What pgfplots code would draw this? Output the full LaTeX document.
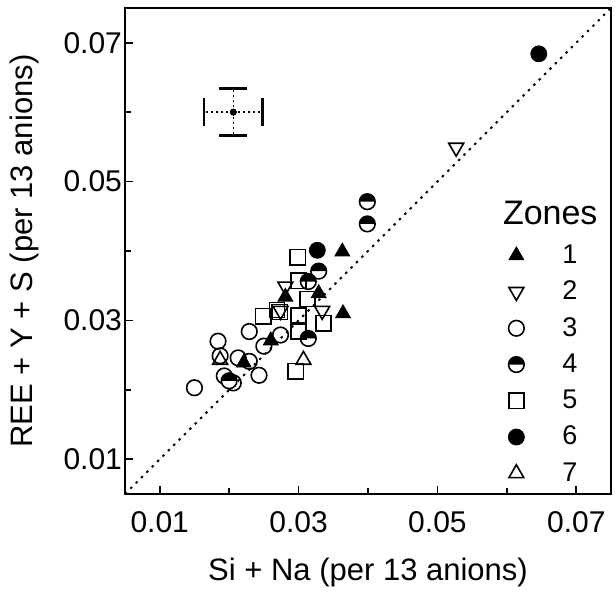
\documentclass[border=0pt]{standalone}
\usepackage{pgfplots}
\pgfplotsset{compat=1.18}
\usepackage{fontspec}
\setmainfont{Liberation Sans}
\begin{document}
\begin{tikzpicture}
\useasboundingbox (-62.5pt,-49pt) rectangle (245pt,247pt);
\begin{axis}[
  at={(0,0)}, anchor=south west,
  scale only axis, width=243pt, height=243pt,
  xmin=0.005, xmax=0.075, ymin=0.005, ymax=0.075,
  scaled ticks=false,
  xtick={0.01,0.03,0.05,0.07}, ytick={0.01,0.03,0.05,0.07},
  minor xtick={0.02,0.04,0.06}, minor ytick={0.02,0.04,0.06},
  xticklabels={0.01,0.03,0.05,0.07}, yticklabels={0.01,0.03,0.05,0.07},
  xtick pos=left, ytick pos=left, tick align=inside,
  major tick length=4pt, minor tick length=3pt,
  tick style={black, line width=0.8pt},
  axis line style={line width=0.7pt},
  /pgf/number format/assume math mode=true,
  tick label style={font=\fontsize{15}{17}\selectfont},
  xticklabel style={yshift=-5pt},
  yticklabel style={xshift=2pt},
  label style={font=\fontsize{15.5}{18}\selectfont},
  xlabel={Si + Na (per 13 anions)},
  ylabel={REE + Y + S (per 13 anions)},
  xlabel style={at={(axis description cs:0.5,-0.1605)}, anchor=center},
  ylabel style={at={(axis description cs:-0.2058,0.5)}, anchor=center},
  legend style={at={(rel axis cs:0.788,0.522)}, anchor=north west, draw=none, fill=none,
    font=\fontsize{13.5}{15}\selectfont, row sep=3.3pt, inner sep=0pt},
  legend cell align=left,
  clip=false,
]
% 1:1 line
\addplot[black, line width=0.9pt, dash pattern=on 1.2pt off 2.6pt, forget plot] coordinates {(0.005,0.005) (0.075,0.075)};
% error cross: x errors
\addplot[black, only marks, mark=*, mark size=1.5pt, forget plot,
  error bars/.cd, x dir=both, x explicit,
  error bar style={line width=0.7pt, dash pattern=on 1pt off 1.5pt},
  error mark=|, error mark options={line width=1.3pt, mark size=7pt}]
  coordinates {(0.0206,0.0600) +- (0.0042,0)};
% error cross: y errors
\addplot[black, only marks, mark=*, mark size=1.5pt, forget plot,
  error bars/.cd, y dir=both, y explicit,
  error bar style={line width=0.7pt, dash pattern=on 1pt off 1.5pt},
  error mark=|, error mark options={line width=1.3pt, mark size=7pt}]
  coordinates {(0.0206,0.0600) +- (0,0.0034)};
% Zone 1
\addplot[black, only marks, mark=triangle*, mark size=4.3pt, mark options={fill=black}] coordinates {
(0.0363,0.0399) (0.0281,0.0334) (0.0329,0.0339) (0.0364,0.0310) (0.0260,0.0271) (0.0221,0.0239)};
\addlegendentry{\hspace{17pt}1}
% Zone 2
\addplot[black, only marks, mark=triangle, mark size=4.3pt, mark options={rotate=180, line width=0.8pt}] coordinates {
(0.0527,0.0549) (0.0281,0.0349) (0.0334,0.0314) (0.0274,0.0314)};
\addlegendentry{\hspace{17pt}2}
% Zone 3
\addplot[black, only marks, mark=o, mark size=3.9pt, mark options={line width=0.8pt}] coordinates {
(0.0229,0.0284) (0.0274,0.0279) (0.0250,0.0263) (0.0184,0.0270) (0.0187,0.0249) (0.0213,0.0246)
(0.0229,0.0241) (0.0243,0.0221) (0.0193,0.0220) (0.0206,0.0210) (0.0150,0.0203)};
\addlegendentry{\hspace{17pt}3}
% Zone 4
\addplot[black, only marks, mark=halfcircle*, mark size=3.9pt, mark options={line width=0.8pt, mark color=black, fill=white, rotate=180}] coordinates {
(0.0399,0.0471) (0.0399,0.0439) (0.0329,0.0371) (0.0314,0.0356) (0.0314,0.0274) (0.0200,0.0213)};
\addlegendentry{\hspace{17pt}4}
% Zone 5
\addplot[black, only marks, mark=square, mark size=3.8pt, mark options={line width=0.8pt}] coordinates {
(0.0299,0.0391) (0.0300,0.0357) (0.0313,0.0331) (0.0269,0.0315) (0.0273,0.0312) (0.0249,0.0306)
(0.0300,0.0307) (0.0336,0.0296) (0.0300,0.0284) (0.0296,0.0227)};
\addlegendentry{\hspace{17pt}5}
% Zone 6
\addplot[black, only marks, mark=*, mark size=4pt] coordinates {
(0.0327,0.0401) (0.0646,0.0684)};
\addlegendentry{\hspace{17pt}6}
% Zone 7
\addplot[black, only marks, mark=triangle, mark size=4.3pt, mark options={line width=0.8pt}] coordinates {
(0.0307,0.0243) (0.0187,0.0243)};
\addlegendentry{\hspace{17pt}7}
\node[font=\fontsize{17}{19}\selectfont] at (rel axis cs:0.875,0.578) {Zones};
\end{axis}
\end{tikzpicture}
\end{document}
